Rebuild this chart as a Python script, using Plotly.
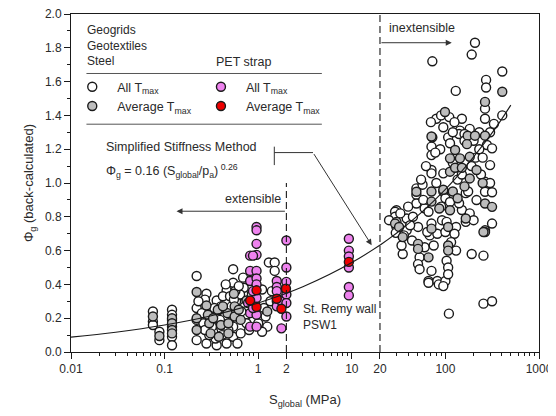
import math
import plotly.graph_objects as go

# geogrids / geotextiles / steel: all Tmax (open circles)
geo_all_x = [0.075, 0.075, 0.075, 0.088, 0.088, 0.12, 0.12, 0.12, 0.12, 0.12, 0.12,
             0.22, 0.22, 0.22, 0.22, 0.28, 0.28, 0.27, 0.26, 0.36, 0.36, 0.36, 0.33,
             0.46, 0.46, 0.46, 0.42, 0.54, 0.54, 0.54, 0.54, 0.6, 0.5, 0.69, 0.69, 0.75,
             0.75, 0.65, 0.62, 1.2, 1.25, 1.3, 1.4, 1.1, 1.5, 1.5, 1.1, 0.9, 0.85, 0.8, 1.0,
             0.3, 0.4, 0.58, 0.7, 0.25, 0.32, 0.44, 0.52, 0.64, 0.35, 0.48, 0.57, 0.72,
             0.23, 0.3, 0.39, 0.5, 0.66, 1.35, 1.15, 0.45, 0.62, 0.34, 0.27, 0.41, 0.55,
             207, 191, 72.5, 405, 272, 272, 129, 265, 265, 405,
             80, 70, 90, 110, 150, 125, 107, 143, 182,
             140, 160, 71, 88, 71, 112, 160, 278, 315,
             210, 300, 71, 71, 95, 265, 265, 315, 49, 49, 95, 165, 100, 112, 215, 30, 49, 60,
             66, 150, 182, 30, 38.6, 38.6, 51, 71, 92, 103, 130, 165, 200, 265, 315,
             29.5, 35, 53, 51, 53, 71, 66, 66, 82, 85, 100, 95, 68, 82, 100, 125, 103, 107,
             107, 191, 255, 255, 315, 109, 29, 29, 25,
             120, 135, 150, 190, 230, 250, 80, 62, 57, 240, 300, 175, 140, 90, 130, 115, 60,
             75, 45, 120, 95, 200, 230, 300, 330, 33, 36, 42, 44, 58, 64, 34, 40, 55, 78]
geo_all_y = [0.24, 0.18, 0.16, 0.12, 0.07, 0.25, 0.22, 0.19, 0.15, 0.09, 0.04,
             0.45, 0.26, 0.19, 0.07, 0.345, 0.05, 0.31, 0.17, 0.305, 0.2, 0.04, 0.12,
             0.365, 0.29, 0.05, 0.33, 0.49, 0.41, 0.15, 0.09, 0.05, 0.2, 0.44, 0.345, 0.22,
             0.17, 0.11, 0.29, 0.21, 0.15, 0.53, 0.36, 0.37, 0.53, 0.48, 0.12, 0.47, 0.43, 0.13, 0.17,
             0.24, 0.27, 0.3, 0.38, 0.23, 0.15, 0.21, 0.27, 0.34, 0.08, 0.13, 0.36, 0.27,
             0.3, 0.1, 0.19, 0.33, 0.24, 0.3, 0.26, 0.4, 0.39, 0.26, 0.13, 0.1, 0.31,
             1.83, 1.76, 1.72, 1.66, 1.61, 1.565, 1.545, 1.44, 1.38, 1.40,
             1.38, 1.36, 1.40, 1.39, 1.38, 1.36, 1.27, 1.31, 1.32,
             1.29, 1.29, 1.215, 1.2, 1.165, 1.235, 1.25, 1.225, 1.205,
             1.15, 1.106, 1.077, 1.057, 1.057, 1.007, 0.948, 0.945, 0.968, 0.93, 0.95, 0.94, 0.91,
             0.888, 0.899, 0.839, 0.879, 0.85,
             0.83, 0.84, 0.82, 0.74, 0.79, 0.72, 0.74, 0.76, 0.78, 0.77, 0.74, 0.77, 0.78, 0.72, 0.76,
             0.705, 0.58, 0.56, 0.52, 0.49, 0.48, 0.42, 0.41, 0.42, 0.40, 0.42, 0.39, 0.69, 0.70,
             0.71, 0.70, 0.54, 0.5, 0.46, 0.58, 0.57, 0.286, 0.30, 0.227, 0.83, 0.8, 0.78,
             1.12, 1.02, 1.05, 1.1, 1.2, 1.15, 1.0, 1.1, 0.99, 1.05, 1.0, 0.95, 0.88, 0.86, 0.6,
             0.65, 0.62, 0.63, 0.8, 1.3, 1.33, 1.25, 1.3, 1.3, 1.35, 0.82, 0.69, 0.75, 0.66, 0.9, 0.71,
             0.63, 0.86, 1.02, 1.18]

# geogrids / geotextiles / steel: average Tmax (grey circles)
geo_avg_x = [0.075, 0.088, 0.12, 0.12, 0.12, 0.12, 0.22, 0.22, 0.22, 0.28, 0.29, 0.3, 0.31,
             0.37, 0.4, 0.38, 0.47, 0.48, 0.48, 0.55, 0.56, 0.56, 0.75, 0.33, 0.42, 0.62,
             1.25, 0.65,
             405, 265, 99, 72.5, 173, 265, 207, 71, 127, 170, 112, 143, 182, 112, 127, 150,
             182, 215, 49, 71, 95, 120, 135, 265, 315, 71, 86, 112, 30, 71, 107, 165, 265,
             35, 51, 51, 66, 107, 107, 255, 29, 32, 250, 160]
geo_avg_y = [0.21, 0.095, 0.2, 0.17, 0.13, 0.11, 0.355, 0.2, 0.13, 0.275, 0.22, 0.17, 0.11,
             0.25, 0.16, 0.09, 0.23, 0.17, 0.11, 0.345, 0.27, 0.21, 0.305, 0.2, 0.27, 0.25,
             0.24, 0.19,
             1.54, 1.48, 1.42, 1.27, 1.28, 1.28, 1.28, 1.275, 1.195, 1.23, 1.146, 1.146, 1.155,
             1.067, 1.09, 1.09, 1.027, 1.077, 0.948, 0.95, 0.96, 0.95, 0.91, 0.879, 0.859,
             0.89, 0.849, 0.839, 0.77, 0.73, 0.74, 0.79, 0.71,
             0.68, 0.64, 0.61, 0.56, 0.63, 0.6, 0.71, 0.76, 0.74, 1.0, 0.98]

# PET strap: all Tmax (pink) and average Tmax (red)
pet_all_x = [0.82, 0.82, 0.82, 0.82, 0.82, 0.78,
             0.96, 0.96, 0.96, 0.96, 0.96, 0.96, 0.96, 0.96, 0.96, 0.96,
             0.88, 0.88, 0.88,
             1.58, 1.58, 1.58, 1.58, 1.58, 1.77, 1.77,
             2.0, 2.0, 2.0, 2.0, 2.0, 2.0,
             9.3, 9.3, 9.3, 9.3, 9.3, 9.3]
pet_all_y = [0.57, 0.48, 0.42, 0.23, 0.15, 0.29,
             0.74, 0.72, 0.64, 0.575, 0.48, 0.435, 0.32, 0.22, 0.15, 0.40,
             0.57, 0.36, 0.26,
             0.42, 0.385, 0.36, 0.3, 0.27, 0.3, 0.14,
             0.66, 0.5, 0.415, 0.34, 0.29, 0.21,
             0.67, 0.60, 0.565, 0.5, 0.385, 0.335]
pet_avg_x = [0.82, 0.96, 0.96, 1.58, 1.98, 1.77, 9.3]
pet_avg_y = [0.305, 0.365, 0.266, 0.315, 0.375, 0.256, 0.533]

# Simplified Stiffness Method curve
curve_s = [0.01, 0.03, 0.1, 0.3, 1, 3, 10, 30, 100, 300, 500]
curve_phi = [0.088, 0.117, 0.160, 0.212, 0.290, 0.386, 0.529, 0.703, 0.962, 1.280, 1.461]

x_tickvals = [0.01, 0.1, 1, 2, 10, 20, 100, 1000]
x_ticktext = ['0.01', '0.1', '1', '2', '10', '20', '100', '1000']
x_minor = [m * 10 ** e for e in range(-2, 3) for m in range(2, 10)]

FONT = 'Liberation Sans, Arial, sans-serif'
TXT = '#2a2a2a'

fig = go.Figure()

fig.add_trace(go.Scatter(
    x=geo_all_x, y=geo_all_y, mode='markers', name='All T<sub>max</sub>', legend='legend',
    marker=dict(size=9, color='white', line=dict(color='#1a1a1a', width=1.4))))
fig.add_trace(go.Scatter(
    x=geo_avg_x, y=geo_avg_y, mode='markers', name='Average T<sub>max</sub>', legend='legend',
    marker=dict(size=9, color='#bdbdbd', line=dict(color='#1a1a1a', width=1.4))))
fig.add_trace(go.Scatter(
    x=pet_all_x, y=pet_all_y, mode='markers', name='All T<sub>max</sub>', legend='legend2',
    marker=dict(size=9, color='#ee82ee', line=dict(color='#1a1a1a', width=1.4))))
fig.add_trace(go.Scatter(
    x=pet_avg_x, y=pet_avg_y, mode='markers', name='Average T<sub>max</sub>', legend='legend2',
    marker=dict(size=9, color='#ee0000', line=dict(color='#1a1a1a', width=1.4))))

fig.add_trace(go.Scatter(x=curve_s, y=curve_phi, mode='lines', line_shape='spline',
                         line=dict(color='#1a1a1a', width=1.1), showlegend=False, hoverinfo='skip'))

# boundaries extensible / inextensible
fig.add_trace(go.Scatter(x=[2, 2], y=[0, 1.0], mode='lines', showlegend=False, hoverinfo='skip',
                         line=dict(color='#1a1a1a', width=1.1, dash='7px,4px')))
fig.add_trace(go.Scatter(x=[20, 20], y=[0, 2.0], mode='lines', showlegend=False, hoverinfo='skip',
                         line=dict(color='#1a1a1a', width=1.1, dash='7px,4px')))

# callout bracket for the equation
fig.add_trace(go.Scatter(x=[1.486, 1.486, None, 1.486, 3.85], y=[1.106, 1.215, None, 1.18, 1.18],
                         mode='lines', showlegend=False, hoverinfo='skip',
                         line=dict(color='#333333', width=1)))

lg = math.log10
arrows = [
    dict(x=lg(0.134), y=0.833, ax=lg(2), ay=0.833),
    dict(x=lg(117), y=1.83, ax=lg(20), ay=1.83),
    dict(x=lg(16.3), y=0.632, ax=lg(3.85), ay=1.18),
]
annotations = []
for a in arrows:
    annotations.append(dict(xref='x', yref='y', axref='x', ayref='y', text='', showarrow=True,
                            arrowhead=2, arrowsize=1.2, arrowwidth=1, arrowcolor='#333333', **a))

def note(text, x, y, xanchor='left', yanchor='middle', size=12.5, align='left'):
    annotations.append(dict(xref='paper', yref='paper', x=x, y=y, text=text, showarrow=False,
                            xanchor=xanchor, yanchor=yanchor, align=align,
                            font=dict(family=FONT, size=size, color=TXT)))

note('Geogrids<br>Geotextiles<br>Steel', 0.03, 0.908, size=12)
note('PET strap', 0.305, 0.859)
note('Simplified Stiffness Method', 0.07, 0.607)
note('Φ<sub>g</sub> = 0.16 (S<sub>global</sub>/p<sub>a</sub>)<sup> 0.26</sup>', 0.07, 0.535)
note('extensible', 0.452, 0.453, xanchor='right')
note('inextensible', 0.676, 0.958)
note('St. Remy wall<br>PSW1', 0.492, 0.103, size=12)

# the page body adds an 8px margin, so the figure is drawn 8px smaller than the window
fig.update_layout(
    width=548, height=408,
    margin=dict(l=63, r=17, t=6, b=64),
    paper_bgcolor='white', plot_bgcolor='white',
    font=dict(family=FONT, size=12, color=TXT),
    annotations=annotations,
    shapes=[
        dict(type='line', xref='paper', yref='paper', x0=0.033, x1=0.536, y0=0.824, y1=0.824,
             line=dict(color='#555555', width=1)),
        dict(type='line', xref='paper', yref='paper', x0=0.033, x1=0.536, y0=0.674, y1=0.674,
             line=dict(color='#555555', width=1)),
    ],
    legend=dict(x=-0.008, y=0.828, xanchor='left', yanchor='top', bgcolor='rgba(0,0,0,0)',
                itemwidth=40, font=dict(family=FONT, size=12.5, color=TXT), tracegroupgap=0),
    legend2=dict(x=0.267, y=0.828, xanchor='left', yanchor='top', bgcolor='rgba(0,0,0,0)',
                 itemwidth=40, font=dict(family=FONT, size=12.5, color=TXT), tracegroupgap=0),
    showlegend=True,
)

fig.update_xaxes(
    type='log', range=[-2, 3], tickvals=x_tickvals, ticktext=x_ticktext, automargin=False,
    ticklabeloverflow='allow',
    ticks='outside', ticklen=6, tickcolor='#1a1a1a', showgrid=False, zeroline=False,
    showline=True, linecolor='#1a1a1a', linewidth=1, mirror=True,
    minor=dict(tickvals=x_minor, ticks='outside', ticklen=3, tickcolor='#1a1a1a'),
    tickfont=dict(family=FONT, size=12, color=TXT),
    title=dict(text='S<sub>global</sub> (MPa)', font=dict(family=FONT, size=13, color=TXT), standoff=19),
)
fig.update_yaxes(
    range=[0, 2], dtick=0.2, tickformat='.1f', automargin=False,
    ticklabeloverflow='allow',
    ticks='outside', ticklen=6, tickcolor='#1a1a1a', showgrid=False, zeroline=False,
    showline=True, linecolor='#1a1a1a', linewidth=1, mirror=True,
    minor=dict(dtick=0.1, ticks='outside', ticklen=3, tickcolor='#1a1a1a'),
    tickfont=dict(family=FONT, size=12, color=TXT),
    title=dict(text='Φ<sub>g</sub> (back-calculated)', font=dict(family=FONT, size=13, color=TXT), standoff=8),
)

fig.write_html('out.html')
